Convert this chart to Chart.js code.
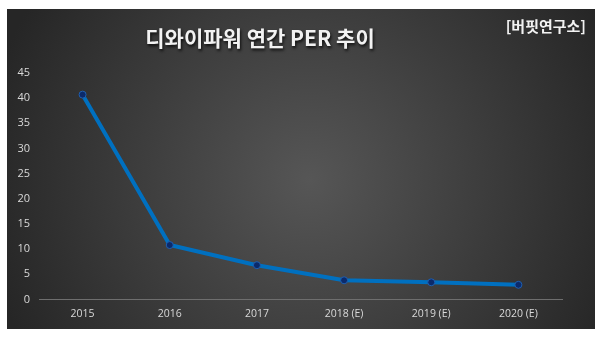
<!DOCTYPE html>
<html>
<head>
<meta charset="utf-8">
<script src="https://cdn.jsdelivr.net/npm/chart.js@4"></script>
<style>
    html, body { margin: 0; padding: 0; background: #ffffff; }
    #wrap { width: 602px; height: 339px; position: relative; }
</style>
</head>
<body>
<div id="wrap"><canvas id="perChart" width="602" height="339"></canvas></div>
<script>
const years = ['2015', '2016', '2017', '2018 (E)', '2019 (E)', '2020 (E)'];
const perValues = [40.7, 10.8, 6.8, 3.8, 3.4, 2.9];
const yTicks = [0, 5, 10, 15, 20, 25, 30, 35, 40, 45];
const chartTitle = '디와이파워 연간 PER 추이';
const sourceLabel = '[버핏연구소]';

// Dark panel with soft radial glow + title text
const panelPlugin = {
    id: 'panel',
    beforeDraw(chart) {
        const ctx = chart.ctx;
        ctx.save();
        ctx.fillStyle = '#ffffff';
        ctx.fillRect(0, 0, chart.width, chart.height);
        const g = ctx.createRadialGradient(310, 180, 0, 310, 180, 330);
        g.addColorStop(0, '#565656');
        g.addColorStop(1, '#262626');
        ctx.fillStyle = g;
        ctx.fillRect(7, 9, 588, 320);
        ctx.restore();
    },
    afterDraw(chart) {
        const ctx = chart.ctx;
        ctx.save();
        ctx.textBaseline = 'middle';
        ctx.shadowColor = 'rgba(0,0,0,0.8)';
        ctx.shadowOffsetX = 1;
        ctx.shadowOffsetY = 2;
        ctx.shadowBlur = 3;
        ctx.fillStyle = '#f2f2f2';
        ctx.textAlign = 'center';
        ctx.font = 'bold 21px "Noto Sans CJK KR"';
        ctx.fillText(chartTitle, 260, 38);
        ctx.shadowColor = 'transparent';
        ctx.textAlign = 'right';
        ctx.font = 'bold 15px "Noto Sans CJK KR"';
        ctx.fillText(sourceLabel, 586, 26);
        ctx.restore();
    }
};

new Chart(document.getElementById('perChart'), {
    type: 'line',
    data: {
        labels: years,
        datasets: [{
            data: perValues,
            borderColor: '#0070c0',
            borderWidth: 4,
            pointRadius: 3.5,
            pointBackgroundColor: '#0b2a6b',
            pointBorderColor: '#1f5fb0',
            pointBorderWidth: 1,
            tension: 0
        }]
    },
    options: {
        responsive: false,
        animation: false,
        layout: { padding: { left: 7, right: 40, top: 73, bottom: 19 } },
        plugins: {
            legend: { display: false },
            tooltip: { enabled: false }
        },
        scales: {
            x: {
                offset: true,
                grid: { display: false },
                border: { color: '#6e6e6e', width: 1 },
                ticks: { color: '#d9d9d9', font: { family: 'Open Sans', size: 10.5 }, padding: 0, maxRotation: 0 }
            },
            y: {
                min: 0,
                max: 45,
                afterBuildTicks: (scale) => { scale.ticks = yTicks.map(v => ({ value: v })); },
                afterFit: (scale) => { scale.width = 32; },
                grid: { display: false },
                border: { display: false },
                ticks: { color: '#d9d9d9', font: { family: 'Open Sans', size: 11 }, padding: 1 }
            }
        }
    },
    plugins: [panelPlugin]
});
</script>
</body>
</html>
